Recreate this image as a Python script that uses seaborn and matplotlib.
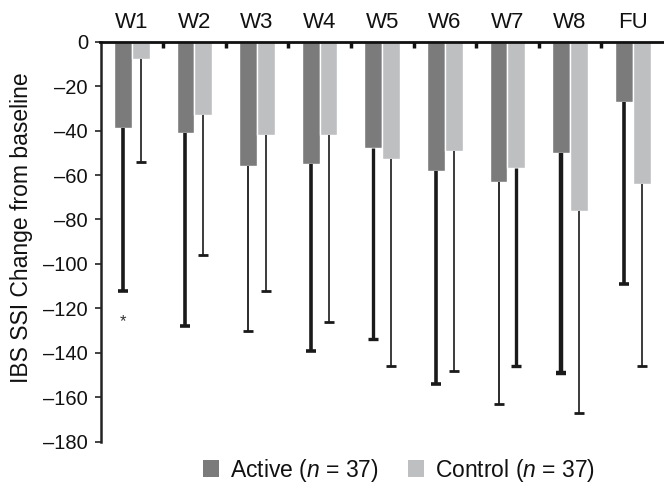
import matplotlib
matplotlib.use("Agg")
import matplotlib.pyplot as plt
import seaborn as sns
import pandas as pd
import numpy as np
from matplotlib.patches import Patch

visits = ["W1", "W2", "W3", "W4", "W5", "W6", "W7", "W8", "FU"]
active_mean = [-39, -41, -56, -55, -48, -58, -63, -50, -27]
control_mean = [-8, -33, -42, -42, -53, -49, -57, -76, -64]
active_sd = [73, 87, 74, 84, 86, 96, 100, 99, 82]
control_sd = [46, 63, 70, 84, 93, 99, 89, 91, 82]
groups = ["Active", "Control"]
legend_labels = [r"Active ($n$ = 37)", r"Control ($n$ = 37)"]
colors = ["#7b7b7b", "#bebfc1"]
yticks = list(range(0, -181, -20))

# stroke widths of the SD whiskers
active_lw = [2.6, 2.6, 1.3, 2.6, 2.4, 2.6, 1.3, 3.2, 2.6]
control_lw = [1.2, 1.2, 1.2, 1.2, 1.2, 1.2, 2.4, 1.2, 1.2]

sns.set_theme(style="white")
plt.rcParams["font.family"] = ["Liberation Sans", "DejaVu Sans"]
plt.rcParams["mathtext.fontset"] = "custom"
plt.rcParams["mathtext.it"] = "Liberation Sans:italic"
plt.rcParams["mathtext.rm"] = "Liberation Sans"
plt.rcParams["text.color"] = "#111111"
plt.rcParams["xtick.color"] = "#111111"
plt.rcParams["ytick.color"] = "#111111"

df = pd.DataFrame({
    "visit": visits * 2,
    "group": [groups[0]] * len(visits) + [groups[1]] * len(visits),
    "change": active_mean + control_mean,
})

W, H = 664, 486
fig = plt.figure(figsize=(W / 100, H / 100), dpi=100)
ax_left, ax_top, ax_bottom = 100.5, 41.7, 441.7
ax = fig.add_axes([ax_left / W, 1 - ax_bottom / H, (W - ax_left) / W, (ax_bottom - ax_top) / H])

sns.barplot(data=df, x="visit", y="change", hue="group", order=visits,
            hue_order=groups, palette=colors, width=0.57, gap=0,
            errorbar=None, saturation=1, ax=ax, legend=False)

# one-sided (downward) SD whiskers with a cap at the lower end only
for cont, means, sds, lws in zip(ax.containers, [active_mean, control_mean],
                                 [active_sd, control_sd], [active_lw, control_lw]):
    for bar, m, s, lw in zip(cont, means, sds, lws):
        x = bar.get_x() + bar.get_width() / 2
        ax.plot([x, x], [m, m - s], color="#1a1a1a", lw=lw, solid_capstyle="butt", zorder=3)
        ax.plot([x], [m - s], marker="_", ms=6.5, mew=max(lw, 2.0), color="#1a1a1a", zorder=3)

# significance marker
xs_active = [b.get_x() + b.get_width() / 2 for b in ax.containers[0]]
ax.text(xs_active[0], -126, "*", ha="center", va="center", fontsize=12, color="#333333")

ax.set_ylim(-180, 0)
ax.set_xlim(-0.5, len(visits) - 0.5)
ax.set_yticks(yticks)
ax.set_yticklabels([f"\u2013{abs(v)}" if v else "0" for v in yticks], fontsize=14.5)
ax.set_ylabel("")
ax.set_xlabel("")
fig.text(22 / W, 1 - 228 / H, "IBS SSI Change from baseline", rotation=90,
         ha="center", va="center", fontsize=16.5)

ax.xaxis.tick_top()
ax.set_xticks(range(len(visits)))
ax.set_xticklabels(visits, fontsize=16)
ax.tick_params(axis="x", which="major", length=0, pad=6)
ax.set_xticks(np.arange(0.5, len(visits) - 1, 1), minor=True)
ax.tick_params(axis="x", which="minor", top=True, direction="in", length=4, width=2.5, color="#111111")
ax.tick_params(axis="y", left=True, length=4, width=1.2, color="#222222", pad=5)

for side in ["right", "bottom"]:
    ax.spines[side].set_visible(False)
ax.spines["top"].set_linewidth(2)
ax.spines["top"].set_color("#111111")
ax.spines["left"].set_linewidth(1.8)
ax.spines["left"].set_color("#222222")

handles = [Patch(facecolor=c, edgecolor="none") for c in colors]
fig.legend(handles, legend_labels, loc="center", bbox_to_anchor=(399 / W, 1 - 470 / H),
           ncol=2, frameon=False, fontsize=16.5, handlelength=0.7, handleheight=0.7,
           handletextpad=0.45, columnspacing=1.3, borderpad=0)

fig.savefig("out.png", dpi=100)
